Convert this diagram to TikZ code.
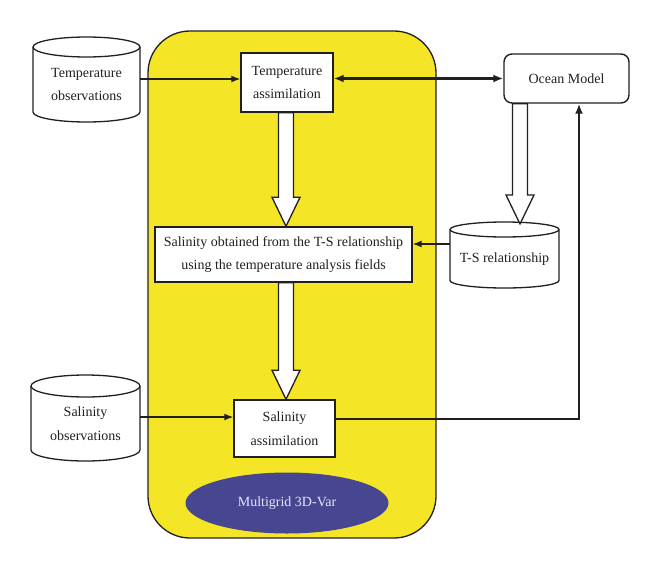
\documentclass[tikz,border=0pt]{standalone}
\usepackage{fontspec}
\setmainfont{Liberation Serif}
\usetikzlibrary{arrows.meta,shapes.geometric,calc}
\definecolor{boxyellow}{HTML}{F4E627}
\definecolor{mgblue}{HTML}{474791}
\definecolor{ink}{HTML}{231F20}
\tikzset{
  txt/.style={font=\fontsize{14pt}{23.5pt}\selectfont, align=center, text=ink},
  box/.style={txt, draw=ink, fill=white, line width=1.4pt, inner sep=0pt},
  roundbox/.style={box, rounded corners=8pt},
  cyltext/.style={txt, inner sep=0pt},
  cylline/.style={draw=ink, fill=white, line width=1.3pt},
  arr/.style={draw=ink, line width=1.3pt, -{Latex[length=9pt,width=7pt]}},
  thickarr/.style={draw=ink, line width=2.2pt, -{Latex[length=10pt,width=8pt]}},
  dblarr/.style={draw=ink, line width=2.2pt, {Latex[length=10pt,width=8pt]}-{Latex[length=10pt,width=8pt]}},
  hollowst/.style={draw=ink, fill=white, line width=1.3pt, line join=miter},
  panel/.style={draw=ink, fill=boxyellow, line width=1.3pt, rounded corners=42pt},
  mg/.style={txt, ellipse, fill=mgblue, text=white!90!blue, inner sep=0pt, minimum width=203pt, minimum height=61pt}
}
% #1 name, #2 x1, #3 ytop, #4 x2, #5 ybottom, #6 ry, #7 text
\newcommand{\mycyl}[7]{%
  \pgfmathsetmacro\cylrx{(#4-#2)/2}%
  \draw[cylline] (#2,#3+#6) -- (#2,#5-#6)
    arc[start angle=180,end angle=360,x radius=\cylrx pt,y radius=#6pt]
    -- (#4,#3+#6)
    arc[start angle=0,end angle=180,x radius=\cylrx pt,y radius=#6pt] -- cycle;
  \draw[draw=ink, line width=1.3pt] (#2,#3+#6) arc[start angle=180,end angle=360,x radius=\cylrx pt,y radius=#6pt];
  \node[cyltext, minimum width=#4pt-#2pt, minimum height=#5pt-#3pt-#6pt] (#1) at ({(#2+#4)/2},{(#3+#6+#5)/2}) {#7};
}
% hollow block arrow: #1 start anchor, #2 tip anchor, #3 x centre
\newcommand{\hollowarrow}[3]{%
  \draw[hollowst] let \p1=(#1), \p2=(#2) in
    (#3pt-7.5pt,\y1) -- (#3pt-7.5pt,\y2+29pt) -- (#3pt-14pt,\y2+29pt) -- (#3pt,\y2)
    -- (#3pt+14pt,\y2+29pt) -- (#3pt+7.5pt,\y2+29pt) -- (#3pt+7.5pt,\y1) -- cycle;
}
\begin{document}
\begin{tikzpicture}[x=1pt,y=-1pt]
\useasboundingbox (0,0) rectangle (660,570);
\fill[white] (0,0) rectangle (660,570);

% yellow panel
\draw[panel] (148,31) rectangle (436,538);

% cylinders
\mycyl{tobs}{33}{37}{140}{122}{10}{Temperature\\observations}
\mycyl{sobs}{31}{375}{140}{461}{11}{Salinity\\observations}
\mycyl{ts}{450}{222}{559}{288}{7.5}{T-S relationship}

% boxes
\node[box, minimum width=92pt, minimum height=59pt] (tass) at (287,82.5) {Temperature\\assimilation};
\node[box, minimum width=257pt, minimum height=55pt] (sal) at (283.5,254.5) {Salinity obtained from the T-S relationship\\using the temperature analysis fields};
\node[box, minimum width=101pt, minimum height=57pt] (sass) at (284.5,428.5) {Salinity\\assimilation};
\node[roundbox, minimum width=125pt, minimum height=49pt] (om) at (566.5,78.5) {Ocean Model};
\node[mg] (mg) at (287,503) {Multigrid 3D-Var};

% helper coordinates
\coordinate (ty) at (0,79);
\coordinate (tsy) at (0,244);
\coordinate (sy) at (0,417);
\coordinate (corner) at (579,419);
\coordinate (tstip) at (520,224);

% connectors
\draw[arr] (tobs.east |- ty) -- (tass.west |- ty);
\draw[dblarr] (tass.east |- om.west) -- (om.west);
\draw[arr] (ts.west |- tsy) -- (sal.east |- tsy);
\draw[arr] (sobs.east |- sy) -- (sass.west |- sy);
\draw[thickarr] (sass.east |- corner) -- (corner) -- (corner |- om.south);

% hollow arrows
\hollowarrow{tass.south}{sal.north}{286}
\hollowarrow{sal.south}{sass.north}{286}
\hollowarrow{om.south}{tstip}{520}
\end{tikzpicture}
\end{document}
